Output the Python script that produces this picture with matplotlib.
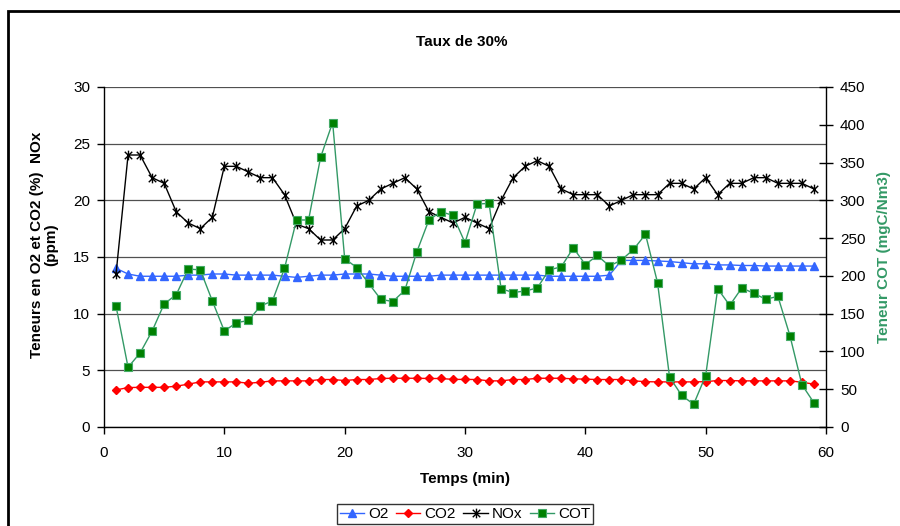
import matplotlib
matplotlib.use("Agg")
import matplotlib.pyplot as plt
from matplotlib.path import Path
from matplotlib.patches import Rectangle

plt.rcParams['font.family'] = ['Liberation Sans', 'DejaVu Sans']
plt.rcParams['font.size'] = 11

temps = list(range(1, 60))

o2 = [14.0, 13.5, 13.3, 13.3, 13.3, 13.3, 13.4, 13.4, 13.5, 13.5,
      13.4, 13.4, 13.4, 13.4, 13.3, 13.2, 13.3, 13.4, 13.4, 13.5,
      13.5, 13.5, 13.4, 13.3, 13.3, 13.3, 13.3, 13.4, 13.4, 13.4,
      13.4, 13.4, 13.4, 13.4, 13.4, 13.4, 13.3, 13.3, 13.3, 13.3,
      13.3, 13.4, 14.7, 14.7, 14.7, 14.65, 14.6, 14.5, 14.4, 14.4,
      14.3, 14.3, 14.25, 14.25, 14.2, 14.2, 14.2, 14.2, 14.2]

co2 = [3.27, 3.48, 3.5, 3.5, 3.5, 3.6, 3.78, 3.98, 3.98, 3.98,
       3.98, 3.86, 3.95, 4.07, 4.07, 4.07, 4.07, 4.19, 4.19, 4.1,
       4.19, 4.19, 4.28, 4.3, 4.3, 4.3, 4.28, 4.28, 4.2, 4.2,
       4.19, 4.07, 4.07, 4.19, 4.19, 4.3, 4.3, 4.3, 4.25, 4.22,
       4.19, 4.19, 4.19, 4.07, 4.0, 3.98, 3.98, 3.98, 3.98, 4.0,
       4.1, 4.1, 4.07, 4.07, 4.07, 4.07, 4.07, 3.95, 3.78]

nox = [13.5, 24.0, 24.0, 22.0, 21.5, 19.0, 18.0, 17.5, 18.5, 23.0,
       23.0, 22.5, 22.0, 22.0, 20.5, 17.9, 17.5, 16.5, 16.5, 17.5,
       19.5, 20.0, 21.0, 21.5, 22.0, 21.0, 19.0, 18.5, 18.0, 18.5,
       18.0, 17.5, 20.0, 22.0, 23.0, 23.5, 23.0, 21.0, 20.5, 20.5,
       20.5, 19.5, 20.0, 20.5, 20.5, 20.5, 21.5, 21.5, 21.0, 22.0,
       20.5, 21.5, 21.5, 22.0, 22.0, 21.5, 21.5, 21.5, 21.0]

cot = [160, 79, 98, 127, 163, 175, 209, 208, 167, 127,
       138, 141, 160, 167, 210, 274, 274, 357, 403, 223,
       211, 190, 169, 166, 181, 232, 274, 285, 280, 244,
       295, 296, 183, 178, 180, 184, 208, 212, 237, 215,
       227, 213, 221, 235, 255, 191, 66, 42, 30, 68,
       183, 161, 184, 177, 169, 173, 121, 56, 32]

x_ticks = [0, 10, 20, 30, 40, 50, 60]
left_ticks = [0, 5, 10, 15, 20, 25, 30]
right_ticks = [0, 50, 100, 150, 200, 250, 300, 350, 400, 450]

W, H = 900, 526
fig = plt.figure(figsize=(9, 5.26), dpi=100)
ax = fig.add_axes([104 / W, 1 - 427 / H, (826 - 104) / W, (427 - 87) / H])
ax2 = ax.twinx()

# border of chart area
fig.patches.append(Rectangle((8 / W, -0.1), 1.2, (H - 11) / H + 0.1,
                             transform=fig.transFigure, fill=False,
                             edgecolor='black', linewidth=2))

star = Path([(-1, -1), (1, 1), (-1, 1), (1, -1), (0, -1.3), (0, 1.3)],
            [Path.MOVETO, Path.LINETO, Path.MOVETO, Path.LINETO,
             Path.MOVETO, Path.LINETO])

l1, = ax.plot(temps, o2, color='#3366FF', marker='^', markersize=6,
              linewidth=1, label='O2')
l2, = ax.plot(temps, co2, color='#FF0000', marker='D', markersize=4.5,
              linewidth=1, label='CO2')
l3, = ax.plot(temps, nox, color='black', marker=star, markersize=7,
              markeredgewidth=1, linewidth=1, label='NOx')
l4, = ax2.plot(temps, cot, color='#339966', marker='s', markersize=5.5,
               markerfacecolor='#008000', markeredgecolor='#44AA66',
               markeredgewidth=0.8, linewidth=1, label='COT')

ax.set_xlim(0, 60)
ax.set_ylim(0, 30)
ax2.set_ylim(0, 450)
ax.set_xticks(x_ticks)
ax.set_yticks(left_ticks)
ax2.set_yticks(right_ticks)

ax.yaxis.grid(True, color='#505050', linewidth=0.9)
ax.set_axisbelow(True)

for a in (ax, ax2):
    a.spines['top'].set_visible(False)
    for s in a.spines.values():
        s.set_linewidth(1)
ax.spines['right'].set_visible(False)
ax2.spines['left'].set_visible(False)
ax2.spines['bottom'].set_visible(False)

ax.tick_params(axis='y', direction='out', length=5, width=1, pad=5, labelsize=11)
ax.tick_params(axis='x', direction='out', length=5, width=1, pad=9, labelsize=11)
ax2.tick_params(axis='y', direction='inout', length=10, width=1, pad=5, labelsize=11)

fig.text(462 / W, 1 - 42 / H, 'Taux de 30%', ha='center', va='center',
         fontsize=11, fontweight='bold')
fig.text(465 / W, 1 - 479 / H, 'Temps (min)', ha='center', va='center',
         fontsize=11, fontweight='bold')
fig.text(44 / W, 1 - 245 / H, 'Teneurs en O2 et CO2 (%)  NOx\n(ppm)',
         ha='center', va='center', rotation=90, multialignment='center',
         fontsize=11, fontweight='bold', linespacing=1.05)
fig.text(884 / W, 1 - 257 / H, 'Teneur COT (mgC/Nm3)', ha='center', va='center',
         rotation=90, fontsize=11, fontweight='bold', color='#339966')

leg = fig.legend(handles=[l1, l2, l3, l4], loc='center',
                 bbox_to_anchor=(465 / W, 1 - 514 / H), ncol=4,
                 frameon=True, fancybox=False, edgecolor='black',
                 handlelength=1.6, handletextpad=0.25, columnspacing=0.5,
                 borderpad=0.2, borderaxespad=0, fontsize=11)
leg.get_frame().set_linewidth(1)

fig.savefig('out.png', dpi=100)
